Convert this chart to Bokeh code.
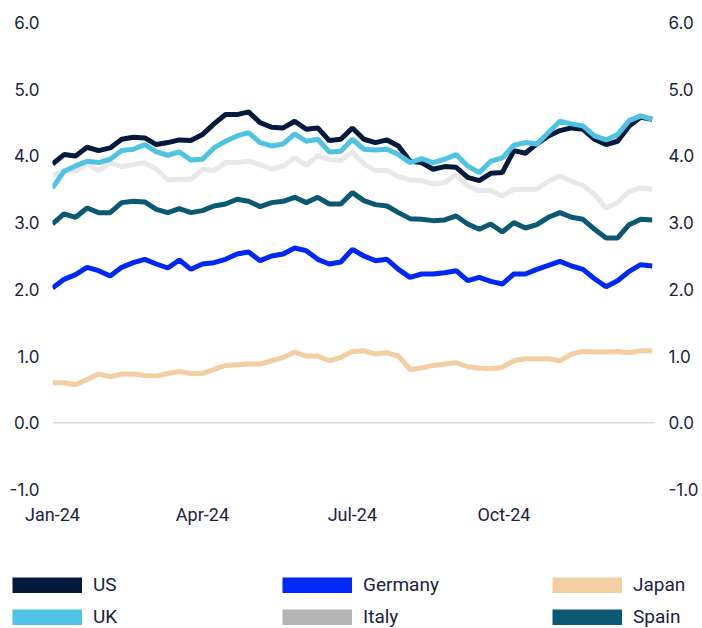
import pandas as pd
from bokeh.plotting import figure
from bokeh.layouts import column
from bokeh.models import (LinearAxis, FixedTicker, NumeralTickFormatter, DatetimeTickFormatter,
                          Span, Legend, LegendItem, Range1d)
from bokeh.embed import file_html
from bokeh.resources import INLINE

# weekly observations, 10-year government bond yields (%), 2024
dates = pd.date_range("2024-01-01", periods=53, freq="7D")

us = [3.88, 4.02, 4.00, 4.13, 4.08, 4.12, 4.25, 4.28, 4.27, 4.17, 4.20, 4.24, 4.23, 4.32,
      4.48, 4.62, 4.62, 4.66, 4.50, 4.43, 4.42, 4.52, 4.40, 4.42, 4.23, 4.25, 4.42, 4.25,
      4.20, 4.24, 4.15, 3.92, 3.90, 3.80, 3.84, 3.83, 3.68, 3.63, 3.74, 3.75, 4.08, 4.04,
      4.18, 4.30, 4.38, 4.42, 4.40, 4.25, 4.17, 4.22, 4.45, 4.58, 4.55]
uk = [3.52, 3.77, 3.85, 3.92, 3.90, 3.95, 4.08, 4.10, 4.17, 4.06, 4.01, 4.06, 3.94, 3.95,
      4.12, 4.22, 4.30, 4.35, 4.20, 4.15, 4.18, 4.33, 4.22, 4.25, 4.06, 4.07, 4.25, 4.10,
      4.09, 4.10, 4.02, 3.90, 3.96, 3.90, 3.95, 4.02, 3.85, 3.75, 3.92, 3.97, 4.16, 4.20,
      4.18, 4.35, 4.52, 4.48, 4.45, 4.30, 4.24, 4.32, 4.53, 4.60, 4.55]
italy = [3.70, 3.78, 3.77, 3.88, 3.78, 3.90, 3.84, 3.87, 3.90, 3.80, 3.64, 3.65, 3.65, 3.80,
         3.78, 3.90, 3.90, 3.92, 3.87, 3.80, 3.85, 3.97, 3.86, 4.00, 3.95, 3.93, 4.06, 3.88,
         3.78, 3.78, 3.69, 3.64, 3.63, 3.58, 3.60, 3.72, 3.55, 3.48, 3.48, 3.40, 3.50, 3.50,
         3.50, 3.62, 3.70, 3.62, 3.56, 3.42, 3.22, 3.30, 3.47, 3.52, 3.50]
spain = [2.98, 3.13, 3.08, 3.22, 3.15, 3.15, 3.30, 3.32, 3.31, 3.20, 3.15, 3.21, 3.15, 3.18,
         3.25, 3.28, 3.35, 3.32, 3.24, 3.30, 3.32, 3.38, 3.30, 3.38, 3.28, 3.28, 3.45, 3.33,
         3.27, 3.25, 3.15, 3.06, 3.05, 3.03, 3.04, 3.10, 2.98, 2.90, 2.98, 2.86, 3.00, 2.92,
         2.97, 3.08, 3.15, 3.08, 3.05, 2.90, 2.77, 2.77, 2.97, 3.05, 3.04]
germany = [2.02, 2.15, 2.22, 2.33, 2.28, 2.20, 2.33, 2.40, 2.45, 2.38, 2.32, 2.44, 2.30, 2.38,
           2.40, 2.45, 2.53, 2.56, 2.43, 2.50, 2.53, 2.62, 2.58, 2.45, 2.38, 2.41, 2.60, 2.50,
           2.43, 2.45, 2.30, 2.18, 2.23, 2.23, 2.25, 2.28, 2.13, 2.18, 2.12, 2.08, 2.23, 2.23,
           2.30, 2.36, 2.42, 2.35, 2.30, 2.16, 2.04, 2.13, 2.27, 2.37, 2.35]
japan = [0.60, 0.60, 0.57, 0.65, 0.73, 0.69, 0.73, 0.73, 0.71, 0.70, 0.74, 0.77, 0.74, 0.74,
         0.80, 0.86, 0.87, 0.88, 0.88, 0.93, 0.98, 1.06, 1.00, 1.00, 0.93, 0.98, 1.07, 1.08,
         1.03, 1.05, 1.00, 0.80, 0.82, 0.86, 0.88, 0.90, 0.84, 0.82, 0.81, 0.83, 0.93, 0.96,
         0.96, 0.96, 0.93, 1.03, 1.07, 1.06, 1.06, 1.07, 1.05, 1.08, 1.08]

x_tick_dates = ["2024-01-01", "2024-04-01", "2024-07-01", "2024-10-01"]
y_ticks = [-1, 0, 1, 2, 3, 4, 5, 6]

C_US, C_UK, C_IT_LINE, C_IT_KEY = "#031a3c", "#4fc3e3", "#e7e8ec", "#b4b4b4"
C_DE, C_JP, C_ES = "#0028f5", "#f2cea2", "#0b5873"
TXT = "#1b2240"

p = figure(width=702, height=566, x_axis_type="datetime",
           x_range=Range1d(start=pd.Timestamp("2024-01-01"), end=pd.Timestamp("2025-01-01")),
           y_range=Range1d(-1, 6),
           output_backend="svg", toolbar_location=None, frame_align=False,
           min_border_left=52, min_border_right=47, min_border_top=22, min_border_bottom=77)
p.outline_line_color = None
p.xgrid.visible = False
p.ygrid.visible = False

p.add_layout(Span(location=0, dimension="width", line_color="#dcdcdc", line_width=1.5))

lw = 5
p.line(dates, italy, line_color=C_IT_LINE, line_width=lw)
p.line(dates, japan, line_color=C_JP, line_width=lw)
p.line(dates, germany, line_color=C_DE, line_width=lw)
p.line(dates, spain, line_color=C_ES, line_width=lw)
p.line(dates, us, line_color=C_US, line_width=lw)
p.line(dates, uk, line_color=C_UK, line_width=lw)

# axes
xticks_ms = [pd.Timestamp(d).value // 10**6 for d in x_tick_dates]
xa = p.xaxis[0]
xa.ticker = FixedTicker(ticks=xticks_ms)
fmt = "%b-%y"
xa.formatter = DatetimeTickFormatter(milliseconds=fmt, seconds=fmt, minsec=fmt, minutes=fmt,
                                     hourmin=fmt, hours=fmt, days=fmt, months=fmt, years=fmt)
xa.major_label_standoff = 14
xa.major_label_text_font = "Roboto"
xa.major_label_text_font_size = "18px"

ya = p.yaxis[0]
ra = LinearAxis()
p.add_layout(ra, "right")
for ax in (ya, ra):
    ax.ticker = FixedTicker(ticks=y_ticks)
    ax.formatter = NumeralTickFormatter(format="0.0")
    ax.major_label_text_font = "Inter"
    ax.major_label_text_font_size = "17px"
    ax.major_label_standoff = 13
for ax in (xa, ya, ra):
    ax.axis_line_color = None
    ax.major_tick_line_color = None
    ax.minor_tick_line_color = None
    ax.major_tick_out = 0
    ax.major_tick_in = 0
    ax.major_label_text_color = TXT

# legend strip (separate figure so the legend can span the full width)
lf = figure(width=702, height=62, output_backend="svg", toolbar_location=None,
            x_axis_location=None, y_axis_location=None, frame_align=False,
            min_border_left=0, min_border_right=0, min_border_top=0, min_border_bottom=0)
lf.outline_line_color = None
lf.xgrid.visible = False
lf.ygrid.visible = False

def key(color):
    return lf.line(x=[float("nan")], y=[float("nan")], line_color=color, line_width=16)

items = [LegendItem(label="US", renderers=[key(C_US)]),
         LegendItem(label="Germany", renderers=[key(C_DE)]),
         LegendItem(label="Japan", renderers=[key(C_JP)]),
         LegendItem(label="UK", renderers=[key(C_UK)]),
         LegendItem(label="Italy", renderers=[key(C_IT_KEY)]),
         LegendItem(label="Spain", renderers=[key(C_ES)])]
legend = Legend(items=items, location=(12, 0), orientation="horizontal", ncols=3,
                glyph_width=70, glyph_height=16, label_standoff=11, label_width=180,
                label_height=22, spacing=9,
                padding=0, margin=0, border_line_color=None, background_fill_alpha=0,
                label_text_font="Roboto", label_text_font_size="19px", label_text_color=TXT)
lf.add_layout(legend)

open("out.html", "w").write(file_html(column(p, lf, spacing=0), INLINE))
